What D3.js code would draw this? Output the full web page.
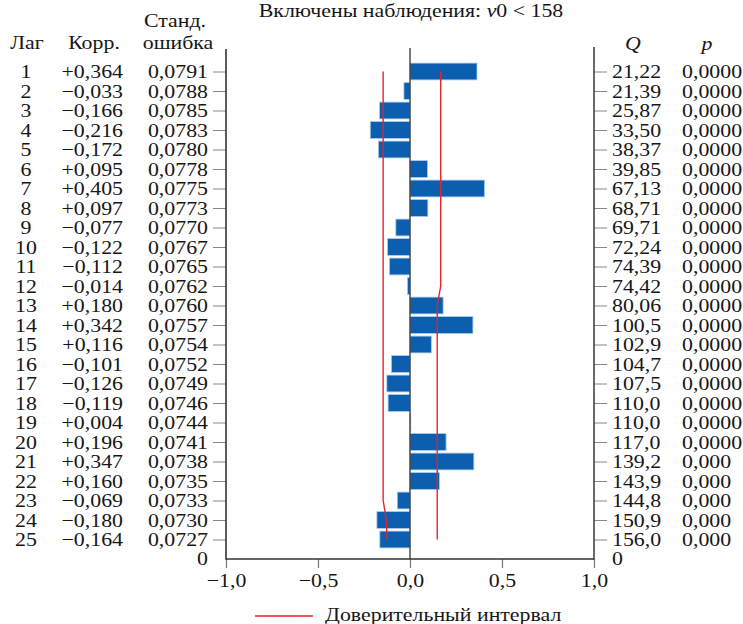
<!DOCTYPE html>
<html><head><meta charset="utf-8">
<script src="https://cdn.jsdelivr.net/npm/d3@7"></script>
<style>
html,body{margin:0;padding:0;background:#fff;}
svg{display:block;}
text{font-family:"Liberation Serif","Times New Roman",serif;font-size:19px;fill:#161616;}
</style></head>
<body><svg id="c" width="743" height="624"></svg>
<script>
const lags = [1,2,3,4,5,6,7,8,9,10,11,12,13,14,15,16,17,18,19,20,21,22,23,24,25];
const corr = [0.364,-0.033,-0.166,-0.216,-0.172,0.095,0.405,0.097,-0.077,-0.122,-0.112,-0.014,0.180,0.342,0.116,-0.101,-0.126,-0.119,0.004,0.196,0.347,0.160,-0.069,-0.180,-0.164];
const stdErr = [0.0791,0.0788,0.0785,0.0783,0.0780,0.0778,0.0775,0.0773,0.0770,0.0767,0.0765,0.0762,0.0760,0.0757,0.0754,0.0752,0.0749,0.0746,0.0744,0.0741,0.0738,0.0735,0.0733,0.0730,0.0727];
const qStat = ["21,22","21,39","25,87","33,50","38,37","39,85","67,13","68,71","69,71","72,24","74,39","74,42","80,06","100,5","102,9","104,7","107,5","110,0","110,0","117,0","139,2","143,9","144,8","150,9","156,0"];
const pVal = ["0,0000","0,0000","0,0000","0,0000","0,0000","0,0000","0,0000","0,0000","0,0000","0,0000","0,0000","0,0000","0,0000","0,0000","0,0000","0,0000","0,0000","0,0000","0,0000","0,0000","0,000","0,000","0,000","0,000","0,000"];
const confUpper = [0.167,0.167,0.167,0.167,0.167,0.167,0.167,0.167,0.167,0.167,0.167,0.167,0.148,0.148,0.148,0.148,0.148,0.148,0.148,0.148,0.148,0.148,0.148,0.148,0.148];
const confLower = [-0.146,-0.146,-0.146,-0.146,-0.146,-0.146,-0.146,-0.146,-0.146,-0.146,-0.146,-0.146,-0.146,-0.146,-0.146,-0.146,-0.146,-0.146,-0.146,-0.146,-0.146,-0.146,-0.146,-0.128,-0.125];
const xTicks = [-1,-0.5,0,0.5,1];
const titleText = "Включены наблюдения: ";
const legendLabel = "Доверительный интервал";

const SX = 1.15;
const svg = d3.select("#c");
const x = d3.scaleLinear().domain([-1,1]).range([226,594]);
const y = d3.scaleLinear().domain([0,lags.length+1]).range([52,559]);
const comma = v => d3.format(".1f")(v).replace(".", ",").replace("-", "\u2212");
const fmtCorr = v => (v>=0?"+":"\u2212") + Math.abs(v).toFixed(3).replace(".", ",");
const fmtSE = v => v.toFixed(4).replace(".", ",");

function txt(px, py, s, anchor, extra){
  const t = svg.append("text")
    .attr("transform", `translate(${px},${py}) scale(${SX},1)`)
    .attr("text-anchor", anchor||"start").text(s);
  if (extra) extra(t);
  return t;
}
function scaleAxisText(sel){
  sel.selectAll(".tick text").each(function(){
    const xx = +this.getAttribute("x") || 0;
    this.setAttribute("x", xx/SX);
    this.setAttribute("transform", `scale(${SX},1)`);
  });
}

// title
const tt = txt(411, 17, titleText, "middle");
tt.append("tspan").attr("font-style","italic").text("v");
tt.append("tspan").text("0 < 158");

// headers
txt(27, 49, "Лаг", "middle");
txt(94, 49, "Корр.", "middle");
txt(175, 27, "Станд.", "middle");
txt(178, 49, "ошибка", "middle");
txt(633, 50, "Q", "middle", t=>t.attr("font-style","italic"));
txt(707, 50, "p", "middle", t=>t.attr("font-style","italic"));

// bars
svg.append("g").selectAll("rect").data(lags).join("rect")
  .attr("x", (d,i)=>Math.min(x(0), x(corr[i])))
  .attr("width", (d,i)=>Math.max(0.8, Math.abs(x(corr[i])-x(0))))
  .attr("y", d=>y(d)-8.4)
  .attr("height", 16.8)
  .attr("fill", "#0b5fae")
  .attr("stroke", "#a9c9ea")
  .attr("stroke-width", 0.8);

// left axis (std err labels)
const gl = svg.append("g").attr("transform","translate(226,0)")
  .call(d3.axisLeft(y).tickValues(lags).tickFormat((d,i)=>fmtSE(stdErr[i])).tickSize(13).tickPadding(5).tickSizeOuter(0));
gl.select(".domain").remove();
gl.selectAll(".tick line").attr("stroke","#888").attr("stroke-width",1);
gl.selectAll(".tick text").attr("fill","#161616").attr("font-family",null).attr("font-size",null);
scaleAxisText(gl);

// right axis (Q labels)
const gr = svg.append("g").attr("transform","translate(594,0)")
  .call(d3.axisRight(y).tickValues(lags).tickFormat((d,i)=>qStat[i]).tickSize(13).tickPadding(5).tickSizeOuter(0));
gr.select(".domain").remove();
gr.selectAll(".tick line").attr("stroke","#888").attr("stroke-width",1);
gr.selectAll(".tick text").attr("fill","#161616").attr("font-family",null).attr("font-size",null);
scaleAxisText(gr);

// lag and corr columns, p column
lags.forEach((d,i)=>{
  txt(26, y(d), String(d), "middle", t=>t.attr("dy","0.35em"));
  txt(123, y(d), fmtCorr(corr[i]), "end", t=>t.attr("dy","0.35em"));
  txt(682, y(d), pVal[i], "start", t=>t.attr("dy","0.35em"));
});
// zero labels at origin
txt(208, y(lags.length+1), "0", "end", t=>t.attr("dy","0.3em"));
txt(612, y(lags.length+1), "0", "start", t=>t.attr("dy","0.3em"));

// bottom axis
const gb = svg.append("g").attr("transform",`translate(0,${y(lags.length+1)})`)
  .call(d3.axisBottom(x).tickValues(xTicks).tickFormat(comma).tickSize(9).tickPadding(6).tickSizeOuter(0));
gb.select(".domain").remove();
gb.selectAll(".tick line").attr("stroke","#777").attr("stroke-width",1.2);
gb.selectAll(".tick text").attr("fill","#161616").attr("font-family",null).attr("font-size",null);
scaleAxisText(gb);

// zero line
svg.append("line").attr("x1",x(0)).attr("x2",x(0)).attr("y1",48).attr("y2",y(lags.length+1))
  .attr("stroke","#333").attr("stroke-width",1.3);

// axes frame lines
svg.append("line").attr("x1",x(-1)).attr("x2",x(-1)).attr("y1",49).attr("y2",y(lags.length+1)+0.75).attr("stroke","#333").attr("stroke-width",1.6);
svg.append("line").attr("x1",x(1)).attr("x2",x(1)).attr("y1",47).attr("y2",y(lags.length+1)+0.75).attr("stroke","#444").attr("stroke-width",1.6);
svg.append("line").attr("x1",x(-1)).attr("x2",x(1)).attr("y1",y(lags.length+1)).attr("y2",y(lags.length+1)).attr("stroke","#333").attr("stroke-width",1.6);

// confidence lines
const line = d3.line().x(d=>x(d[1])).y(d=>y(d[0]));
svg.append("path").datum(lags.map((d,i)=>[d,confUpper[i]])).attr("d",line)
  .attr("fill","none").attr("stroke","#e8232b").attr("stroke-width",1.4);
svg.append("path").datum(lags.map((d,i)=>[d,confLower[i]])).attr("d",line)
  .attr("fill","none").attr("stroke","#e8232b").attr("stroke-width",1.4);

// legend
svg.append("line").attr("x1",255).attr("x2",313).attr("y1",616).attr("y2",616)
  .attr("stroke","#e8232b").attr("stroke-width",1.4);
txt(325, 621, legendLabel, "start");
</script>
</body></html>
